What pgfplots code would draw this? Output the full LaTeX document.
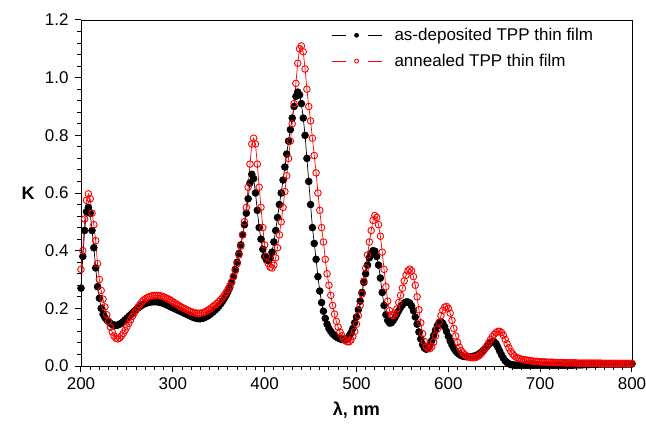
\documentclass[border=0pt]{standalone}
\usepackage{pgfplots}
\pgfplotsset{compat=1.18}
\usepackage{pgfplotstable}
\usepackage{fontspec}
\setmainfont{Liberation Sans}
\pgfplotstableread{
x b r
200 0.270 0.335
202 0.380 0.400
204 0.470 0.510
206 0.535 0.575
208 0.550 0.597
210 0.530 0.580
212 0.470 0.530
214 0.410 0.490
216 0.340 0.435
218 0.275 0.355
220 0.235 0.300
222 0.200 0.262
224 0.180 0.232
226 0.168 0.205
228 0.160 0.178
230 0.154 0.155
232 0.148 0.135
234 0.144 0.118
236 0.142 0.104
238 0.141 0.096
240 0.142 0.094
242 0.145 0.097
244 0.149 0.104
246 0.154 0.113
248 0.160 0.124
250 0.166 0.136
252 0.172 0.148
254 0.178 0.160
256 0.184 0.172
258 0.190 0.183
260 0.196 0.194
262 0.201 0.204
264 0.206 0.213
266 0.210 0.221
268 0.214 0.228
270 0.217 0.233
272 0.219 0.237
274 0.221 0.240
276 0.222 0.242
278 0.223 0.244
280 0.223 0.245
282 0.223 0.245
284 0.222 0.245
286 0.221 0.244
288 0.219 0.242
290 0.217 0.240
292 0.214 0.237
294 0.211 0.234
296 0.208 0.231
298 0.205 0.227
300 0.202 0.223
302 0.199 0.219
304 0.196 0.215
306 0.193 0.211
308 0.190 0.207
310 0.187 0.203
312 0.184 0.200
314 0.181 0.197
316 0.178 0.194
318 0.175 0.191
320 0.172 0.188
322 0.169 0.186
324 0.167 0.184
326 0.165 0.183
328 0.164 0.183
330 0.164 0.183
332 0.165 0.184
334 0.167 0.186
336 0.170 0.189
338 0.174 0.193
340 0.178 0.197
342 0.183 0.202
344 0.188 0.207
346 0.194 0.212
348 0.200 0.217
350 0.207 0.223
352 0.215 0.230
354 0.224 0.237
356 0.234 0.245
358 0.245 0.255
360 0.258 0.266
362 0.272 0.278
364 0.290 0.292
366 0.310 0.310
368 0.335 0.330
370 0.360 0.355
372 0.390 0.385
374 0.420 0.415
376 0.455 0.455
378 0.490 0.500
380 0.530 0.550
382 0.580 0.620
384 0.635 0.700
386 0.665 0.770
388 0.650 0.790
390 0.600 0.770
392 0.540 0.700
394 0.480 0.620
396 0.440 0.550
398 0.405 0.480
400 0.380 0.420
402 0.368 0.380
404 0.365 0.355
406 0.375 0.343
408 0.395 0.340
410 0.430 0.350
412 0.470 0.375
414 0.515 0.410
416 0.560 0.455
418 0.600 0.500
420 0.645 0.550
422 0.690 0.605
424 0.735 0.660
426 0.780 0.720
428 0.820 0.780
430 0.860 0.840
432 0.900 0.910
434 0.935 0.980
436 0.950 1.050
438 0.940 1.100
440 0.910 1.110
442 0.860 1.090
444 0.800 1.030
446 0.720 0.960
448 0.640 0.900
450 0.560 0.850
452 0.480 0.790
454 0.425 0.730
456 0.370 0.670
458 0.310 0.600
460 0.260 0.540
462 0.220 0.480
464 0.190 0.430
466 0.165 0.370
468 0.145 0.320
470 0.130 0.280
472 0.120 0.245
474 0.112 0.210
476 0.106 0.180
478 0.101 0.155
480 0.097 0.135
482 0.094 0.118
484 0.092 0.105
486 0.091 0.095
488 0.092 0.088
490 0.096 0.084
492 0.104 0.084
494 0.115 0.090
496 0.130 0.103
498 0.150 0.120
500 0.170 0.145
502 0.195 0.175
504 0.225 0.210
506 0.255 0.250
508 0.290 0.295
510 0.320 0.340
512 0.350 0.385
514 0.375 0.430
516 0.390 0.470
518 0.400 0.505
520 0.398 0.522
522 0.380 0.515
524 0.350 0.490
526 0.305 0.450
528 0.255 0.395
530 0.210 0.335
532 0.178 0.275
534 0.158 0.225
536 0.149 0.192
538 0.150 0.178
540 0.158 0.175
542 0.168 0.182
544 0.180 0.198
546 0.192 0.220
548 0.203 0.245
550 0.212 0.270
552 0.219 0.295
554 0.222 0.315
556 0.222 0.330
558 0.218 0.336
560 0.208 0.330
562 0.192 0.310
564 0.170 0.280
566 0.145 0.240
568 0.118 0.195
570 0.094 0.150
572 0.074 0.112
574 0.062 0.085
576 0.058 0.068
578 0.062 0.061
580 0.072 0.060
582 0.088 0.068
584 0.106 0.083
586 0.124 0.104
588 0.139 0.128
590 0.150 0.152
592 0.153 0.175
594 0.148 0.193
596 0.136 0.204
598 0.120 0.207
600 0.103 0.200
602 0.087 0.183
604 0.073 0.158
606 0.061 0.130
608 0.052 0.104
610 0.045 0.082
612 0.040 0.065
614 0.036 0.053
616 0.034 0.045
618 0.033 0.039
620 0.032 0.035
622 0.032 0.032
624 0.032 0.030
626 0.033 0.029
628 0.034 0.029
630 0.036 0.030
632 0.039 0.033
634 0.043 0.037
636 0.048 0.043
638 0.054 0.051
640 0.061 0.060
642 0.068 0.070
644 0.075 0.081
646 0.081 0.092
648 0.085 0.102
650 0.084 0.110
652 0.077 0.116
654 0.065 0.120
656 0.051 0.120
658 0.038 0.116
660 0.027 0.106
662 0.018 0.092
664 0.012 0.077
666 0.008 0.063
668 0.005 0.051
670 0.004 0.042
672 0.003 0.035
674 0.003 0.030
676 0.003 0.027
678 0.003 0.025
680 0.003 0.023
682 0.003 0.022
684 0.003 0.021
686 0.003 0.020
688 0.003 0.019
690 0.003 0.018
692 0.003 0.017
694 0.003 0.016
696 0.003 0.016
698 0.003 0.015
700 0.003 0.015
702 0.003 0.014
704 0.003 0.014
706 0.003 0.014
708 0.003 0.013
710 0.003 0.013
712 0.003 0.013
714 0.003 0.013
716 0.003 0.012
718 0.003 0.012
720 0.003 0.012
722 0.003 0.012
724 0.003 0.012
726 0.003 0.011
728 0.003 0.011
730 0.003 0.011
732 0.003 0.011
734 0.003 0.011
736 0.003 0.011
738 0.004 0.011
740 0.004 0.010
742 0.004 0.010
744 0.004 0.010
746 0.004 0.010
748 0.005 0.010
750 0.005 0.010
752 0.005 0.010
754 0.005 0.010
756 0.006 0.010
758 0.006 0.010
760 0.006 0.010
762 0.006 0.010
764 0.007 0.010
766 0.007 0.010
768 0.007 0.009
770 0.007 0.009
772 0.007 0.009
774 0.007 0.009
776 0.007 0.009
778 0.007 0.009
780 0.007 0.009
782 0.007 0.009
784 0.007 0.009
786 0.007 0.009
788 0.007 0.009
790 0.007 0.009
792 0.007 0.009
794 0.007 0.009
796 0.007 0.009
798 0.007 0.009
800 0.007 0.009
}\datatable
\begin{document}
\begin{tikzpicture}
\begin{axis}[
  at={(0,0)}, anchor=south west,
  width=551pt, height=346pt, scale only axis,
  xmin=200, xmax=800, ymin=0, ymax=1.2,
  xtick={200,300,...,800}, ytick={0,0.2,...,1.2},
  minor x tick num=9, minor y tick num=4,
  xtick pos=bottom, ytick pos=left,
  tick align=outside,
  major tick length=6pt, minor tick length=3.5pt,
  every tick/.style={black, line width=1pt},
  axis line style={black, line width=0.6pt},
  /pgf/number format/assume math mode=true,
  yticklabel style={xshift=-3pt, /pgf/number format/.cd, fixed, fixed zerofill, precision=1},
  tick label style={font=\fontsize{17}{20}\selectfont},
  xticklabel style={yshift=-2pt},
  xlabel={\textbf{λ, nm}},
  ylabel={\textbf{K}},
  xlabel style={font=\fontsize{18}{21}\selectfont, at={(axis description cs:0.5,0)}, anchor=center, yshift=-44pt},
  ylabel style={font=\fontsize{18}{21}\selectfont, at={(axis description cs:-0.096,0.5)}, anchor=center, rotate=-90},
  legend style={draw=none, fill=none, at={(rel axis cs:0.452,0.985)}, anchor=north west,
    font=\fontsize{17}{20}\selectfont, row sep=8pt, inner sep=1pt},
  legend cell align=left,
  legend image code/.code={
    \draw[#1, mark=none, line width=0.6pt] (0pt,0pt) -- (14pt,0pt);
    \draw[#1, mark=none, line width=0.6pt] (36pt,0pt) -- (50pt,0pt);
    \draw[#1, only marks, mark size=2pt] plot coordinates {(25pt,0pt)};
    \path[draw=none, fill=none] (0pt,0pt) (61pt,0pt);
  },
]
\addplot[black, line width=0.7pt, mark=*, mark size=3.4pt, mark options={fill=black}] table[x=x, y=b] {\datatable};
\addlegendentry{as-deposited TPP thin film}
\addplot[red, line width=0.7pt, mark=o, mark size=3.3pt, mark options={fill=white, line width=0.9pt}] table[x=x, y=r] {\datatable};
\addlegendentry{annealed TPP thin film}
\end{axis}
\pgfresetboundingbox
\path[use as bounding box] (-81pt,-63pt) rectangle (565pt,366pt);
\end{tikzpicture}
\end{document}
